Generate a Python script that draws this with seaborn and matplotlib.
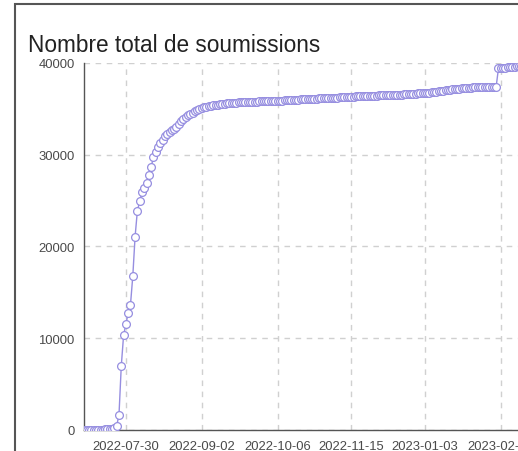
import matplotlib
matplotlib.use("Agg")
import matplotlib.pyplot as plt
from matplotlib.patches import Rectangle
import seaborn as sns
import numpy as np

# cumulative submissions, one value per point
submissions = [
    0, 3, 8, 12, 18, 25, 33, 41, 52, 66,
    84, 110, 150, 230, 470, 1630, 7000, 10300, 11550, 12750,
    13660, 16750, 21070, 23900, 24930, 25910, 26380, 26920, 27800, 28700,
    29720, 30270, 30800, 31250, 31650, 32000, 32300, 32520, 32680, 32820,
    33050, 33350, 33650, 33900, 34100, 34280, 34440, 34580, 34720, 34850,
    34980, 35080, 35160, 35230, 35290, 35340, 35390, 35430, 35470, 35510,
    35540, 35570, 35600, 35620, 35640, 35660, 35680, 35700, 35710, 35720,
    35740, 35750, 35760, 35770, 35780, 35790, 35800, 35810, 35820, 35830,
    35840, 35850, 35860, 35870, 35880, 35890, 35900, 35910, 35920, 35930,
    35960, 35980, 36000, 36010, 36030, 36040, 36060, 36070, 36080, 36100,
    36110, 36120, 36140, 36150, 36160, 36170, 36180, 36190, 36200, 36210,
    36220, 36240, 36250, 36260, 36280, 36300, 36320, 36340, 36360, 36370,
    36380, 36390, 36400, 36410, 36420, 36430, 36440, 36450, 36460, 36470,
    36480, 36490, 36500, 36510, 36520, 36530, 36540, 36550, 36560, 36570,
    36580, 36600, 36620, 36640, 36660, 36680, 36700, 36720, 36740, 36760,
    36780, 36800, 36830, 36860, 36890, 36920, 36960, 37000, 37040, 37080,
    37110, 37140, 37170, 37200, 37230, 37250, 37270, 37290, 37310, 37330,
    37340, 37350, 37360, 37370, 37380, 37390, 37400, 37410, 37420, 37420,
    39400, 39430, 39460, 39490, 39520, 39550, 39580, 39610, 39640, 39680,
    39720, 39760,
]
tick_idx = [18, 51, 84, 116, 148, 181]
tick_labels = ["2022-07-30", "2022-09-02", "2022-10-06", "2022-11-15",
               "2023-01-03", "2023-02-14"]
y_ticks = [0, 10000, 20000, 30000, 40000]

sns.set_style("white")
plt.rcParams["font.family"] = ["Liberation Sans", "DejaVu Sans"]

fig = plt.figure(figsize=(5.18, 4.52), dpi=100)
ax = fig.add_axes([0.1631, 0.0465, 0.848, 0.812])

line_color = "#968ee0"
x = np.arange(len(submissions))
sns.lineplot(x=x, y=submissions, ax=ax, color=line_color, linewidth=1,
             marker="o", markersize=5.6, markerfacecolor="white",
             markeredgecolor=line_color, markeredgewidth=0.9, zorder=3)

ax.set_xlim(0, len(submissions) - 1)
ax.set_ylim(0, 40000)
ax.set_xticks(tick_idx)
ax.set_xticklabels(tick_labels)
ax.set_yticks(y_ticks)
ax.set_yticklabels([str(v) for v in y_ticks])
ax.tick_params(axis="both", direction="out", length=5, width=1,
               color="#555555", labelcolor="#4a4a4a", labelsize=9.4, pad=2)
ax.grid(True, linestyle=(0, (4, 4)), color="#d0d0d0", linewidth=1)
ax.set_axisbelow(True)
for side in ["top", "right"]:
    ax.spines[side].set_visible(False)
for side in ["left", "bottom"]:
    ax.spines[side].set_color("#555555")
    ax.spines[side].set_linewidth(1)
ax.set_xlabel("")
ax.set_ylabel("")

fig.text(28 / 518, 1 - 52 / 452, "Nombre total de soumissions",
         fontsize=16.3, color="#222222", va="baseline", ha="left")

border = Rectangle((15 / 518, -0.1), 2, 1 - 5 / 452 + 0.1,
                   transform=fig.transFigure, fill=False,
                   edgecolor="#555555", linewidth=1.5)
fig.patches.append(border)

fig.savefig("out.png", dpi=100)
